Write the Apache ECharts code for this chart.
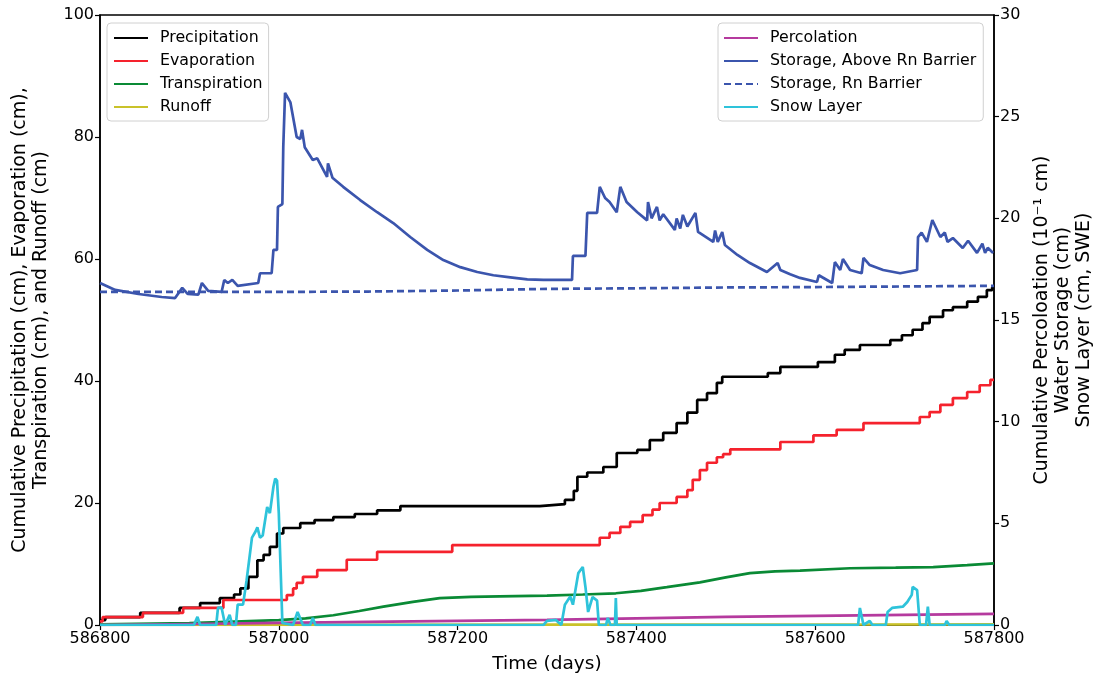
<!DOCTYPE html>
<html>
<head>
<meta charset="utf-8">
<script src="https://cdn.jsdelivr.net/npm/echarts@6/dist/echarts.min.js"></script>
<style>
html,body{margin:0;padding:0;background:#fff;}
#chart{width:1097px;height:679px;}
</style>
</head>
<body>
<div id="chart"></div>
<script>
// ---- Data (x: time in days) ----
const xTicks = [586800, 587000, 587200, 587400, 587600, 587800];
const leftTicks = [0, 20, 40, 60, 80, 100];
const rightTicks = [0, 5, 10, 15, 20, 25, 30];

// Left axis (cm)
const precipitation = [[586800,0.8],[586806,1.3],[586845,2.0],[586889,2.8],[586912,3.6],[586934,4.4],[586950,5.0],[586957,6.0],[586966,7.9],[586976,10.6],[586983,11.5],[586990,12.8],[586998,15.0],[587005,15.9],[587024,16.7],[587040,17.2],[587061,17.7],[587085,18.2],[587110,18.8],[587136,19.5],[587292,19.8],[587320,20.5],[587330,22.0],[587334,24.3],[587345,25.0],[587363,25.9],[587378,28.2],[587401,28.7],[587415,30.3],[587430,31.5],[587445,33.1],[587457,34.8],[587468,36.9],[587479,38.0],[587490,39.7],[587496,40.7],[587547,41.3],[587561,42.3],[587603,43.1],[587622,44.3],[587633,45.1],[587650,45.9],[587684,46.7],[587697,47.5],[587709,48.4],[587720,49.5],[587728,50.5],[587743,51.6],[587754,52.1],[587770,53.0],[587782,53.8],[587792,54.9],[587798,55.4],[587800,55.5]];
const evaporation = [[586800,0.6],[586803,1.3],[586848,2.0],[586893,2.8],[586938,4.1],[587009,4.9],[587016,6.0],[587020,6.9],[587027,7.9],[587043,9.0],[587076,10.7],[587110,12.0],[587194,13.1],[587359,14.3],[587370,15.1],[587382,16.1],[587393,16.9],[587407,18.0],[587418,18.9],[587426,20.0],[587445,21.0],[587457,22.1],[587463,23.8],[587471,25.4],[587479,26.6],[587490,27.5],[587497,28.0],[587505,28.8],[587561,30.0],[587598,31.1],[587624,32.0],[587654,33.1],[587717,34.1],[587728,34.9],[587740,36.1],[587754,37.2],[587770,38.2],[587784,39.3],[587796,40.2],[587800,40.3]];
const transpiration = [[586800,0.1],[586900,0.3],[587000,0.8],[587030,1.1],[587061,1.6],[587090,2.3],[587117,3.0],[587150,3.8],[587180,4.4],[587215,4.6],[587247,4.7],[587300,4.8],[587340,5.0],[587377,5.2],[587405,5.6],[587434,6.2],[587471,7.0],[587500,7.8],[587527,8.5],[587555,8.8],[587583,8.9],[587639,9.3],[587690,9.4],[587732,9.5],[587770,9.8],[587800,10.1]];
const runoff = [[586800,0.0],[587300,0.05],[587650,0.08],[587800,0.1]];

// Right axis
const percolation = [[586800,0.0],[586900,0.05],[587000,0.1],[587100,0.15],[587200,0.2],[587300,0.25],[587400,0.33],[587500,0.4],[587600,0.45],[587700,0.5],[587800,0.55]];
const storageAbove = [[586800,16.82],[586817,16.48],[586843,16.28],[586869,16.13],[586884,16.08],[586892,16.58],[586898,16.28],[586910,16.25],[586914,16.82],[586921,16.43],[586936,16.38],[586939,16.97],[586943,16.82],[586948,16.97],[586954,16.68],[586977,16.82],[586979,17.3],[586992,17.3],[586994,18.45],[586998,18.45],[586999,20.56],[587004,20.7],[587005,23.5],[587007,26.17],[587013,25.7],[587020,24.0],[587024,23.9],[587026,24.35],[587029,23.5],[587038,22.87],[587043,22.95],[587054,22.04],[587055,22.7],[587060,22.0],[587072,21.55],[587091,20.9],[587110,20.3],[587128,19.77],[587147,19.08],[587166,18.45],[587184,17.95],[587203,17.6],[587222,17.36],[587240,17.2],[587259,17.1],[587278,17.0],[587296,16.97],[587315,16.97],[587328,16.97],[587329,18.15],[587343,18.15],[587345,20.27],[587356,20.27],[587359,21.55],[587365,21.0],[587370,20.8],[587378,20.3],[587382,21.55],[587389,20.8],[587401,20.3],[587412,19.9],[587413,20.8],[587417,20.0],[587423,20.56],[587426,19.9],[587430,20.2],[587443,19.43],[587445,20.0],[587449,19.5],[587452,20.17],[587457,19.6],[587466,20.27],[587469,19.33],[587486,18.84],[587488,19.4],[587491,18.84],[587496,19.33],[587499,18.69],[587513,18.2],[587527,17.8],[587546,17.36],[587558,17.8],[587561,17.46],[587572,17.25],[587583,17.07],[587602,16.87],[587604,17.2],[587619,16.82],[587622,17.85],[587628,17.46],[587631,18.0],[587639,17.46],[587652,17.3],[587654,18.05],[587661,17.7],[587676,17.46],[587695,17.3],[587714,17.46],[587715,19.08],[587719,19.3],[587725,18.84],[587731,19.92],[587740,19.08],[587745,19.3],[587748,18.84],[587754,19.03],[587765,18.54],[587771,18.9],[587781,18.3],[587787,18.75],[587790,18.3],[587793,18.55],[587799,18.3]];
const storageRn = [[586800,16.38],[587000,16.38],[587100,16.4],[587200,16.45],[587300,16.53],[587400,16.56],[587500,16.6],[587600,16.62],[587700,16.65],[587800,16.68]];
const snow = [[586800,0],[586905,0],[586909,0.4],[586912,0],[586930,0],[586932,0.85],[586936,0.85],[586940,0],[586945,0.5],[586948,0],[586952,0],[586954,1.0],[586960,1.0],[586964,2.2],[586970,4.3],[586974,4.6],[586976,4.8],[586979,4.3],[586982,4.4],[586987,5.8],[586990,5.5],[586994,6.8],[586996,7.2],[586998,7.1],[587000,5.5],[587004,0.1],[587016,0],[587021,0.64],[587027,0],[587035,0],[587038,0.35],[587041,0],[587296,0],[587300,0.2],[587310,0.25],[587316,0],[587320,1.0],[587326,1.4],[587329,1.0],[587335,2.55],[587340,2.85],[587343,1.87],[587346,0.64],[587351,1.38],[587356,1.2],[587358,0],[587366,0],[587368,0.35],[587371,0],[587376,0],[587377,1.33],[587378,0],[587648,0],[587650,0.84],[587654,0],[587661,0.2],[587664,0],[587679,0],[587681,0.64],[587686,0.84],[587698,0.9],[587703,1.13],[587708,1.48],[587709,1.87],[587714,1.72],[587717,0],[587724,0],[587726,0.9],[587728,0],[587745,0],[587747,0.2],[587750,0],[587800,0]];

const FONT = 'DejaVu Sans';
const chart = echarts.init(document.getElementById('chart'), null, {renderer: 'canvas'});

function line(name, data, color, yIdx, opts) {
  return Object.assign({
    name: name, type: 'line', data: data, yAxisIndex: yIdx,
    showSymbol: false, symbol: 'none', animation: false,
    lineStyle: {color: color, width: 2.7}, itemStyle: {color: color}
  }, opts || {});
}

const axisCommon = {
  axisLine: {show: true, lineStyle: {color: '#000', width: 1.5}},
  axisTick: {show: true, inside: false, length: 5, lineStyle: {color: '#000', width: 1.2}},
  splitLine: {show: false},
  axisLabel: {color: '#000', fontFamily: FONT, fontSize: 16, margin: 6},
  nameTextStyle: {color: '#000', fontFamily: FONT, fontSize: 19, lineHeight: 21}
};

const legendCommon = {
  orient: 'vertical', top: 23,
  itemWidth: 34, itemHeight: 14, itemGap: 7,
  backgroundColor: 'rgba(255,255,255,0.85)', borderColor: '#d0d0d0', borderWidth: 1, borderRadius: 4,
  itemStyle: {opacity: 0},
  textStyle: {fontFamily: FONT, fontSize: 15.8, color: '#000', padding: [0, 0, 0, 7]}
};

chart.setOption({
  animation: false,
  backgroundColor: '#fff',
  grid: {left: 100, right: 103, top: 15, bottom: 54, show: true, borderColor: '#000', borderWidth: 1.5,
         backgroundColor: 'transparent', containLabel: false, outerBoundsMode: 'none'},
  legend: [
    Object.assign({}, legendCommon, {
      data: ['Precipitation', 'Evaporation', 'Transpiration', 'Runoff'],
      left: 107, padding: [7, 6, 6, 6]
    }),
    Object.assign({}, legendCommon, {
      data: ['Percolation', 'Storage, Above Rn Barrier', 'Storage, Rn Barrier', 'Snow Layer'],
      left: 718, padding: [7, 7, 6, 5]
    })
  ],
  xAxis: Object.assign({}, axisCommon, {
    type: 'value', min: xTicks[0], max: xTicks[xTicks.length - 1], interval: xTicks[1] - xTicks[0],
    name: 'Time (days)', nameLocation: 'middle', nameGap: 29,
    nameTextStyle: Object.assign({}, axisCommon.nameTextStyle, {fontSize: 18.5}),
    axisLabel: Object.assign({}, axisCommon.axisLabel, {formatter: v => String(v)})
  }),
  yAxis: [
    Object.assign({}, axisCommon, {
      type: 'value', min: leftTicks[0], max: leftTicks[leftTicks.length - 1], interval: leftTicks[1] - leftTicks[0],
      name: 'Cumulative Precipitation (cm), Evaporation (cm),\nTranspiration (cm), and Runoff (cm)',
      nameLocation: 'middle', nameGap: 48, position: 'left'
    }),
    Object.assign({}, axisCommon, {
      type: 'value', min: rightTicks[0], max: rightTicks[rightTicks.length - 1], interval: rightTicks[1] - rightTicks[0],
      name: 'Cumulative Percoloation (10\u207B\u00B9 cm)\nWater Storage (cm)\nSnow Layer (cm, SWE)',
      nameLocation: 'middle', nameGap: 36, position: 'right'
    })
  ],
  series: [
    line('Precipitation', precipitation, '#000000', 0, {step: 'end'}),
    line('Evaporation', evaporation, '#f5222d', 0, {step: 'end'}),
    line('Transpiration', transpiration, '#0a8a35', 0),
    line('Runoff', runoff, '#c9c22a', 0),
    line('Percolation', percolation, '#b53a9e', 1),
    line('Storage, Above Rn Barrier', storageAbove, '#3b55ad', 1),
    line('Storage, Rn Barrier', storageRn, '#3b55ad', 1, {lineStyle: {color: '#3b55ad', width: 2.7, type: [7, 4]}}),
    line('Snow Layer', snow, '#2ec3da', 1)
  ]
});
</script>
</body>
</html>
